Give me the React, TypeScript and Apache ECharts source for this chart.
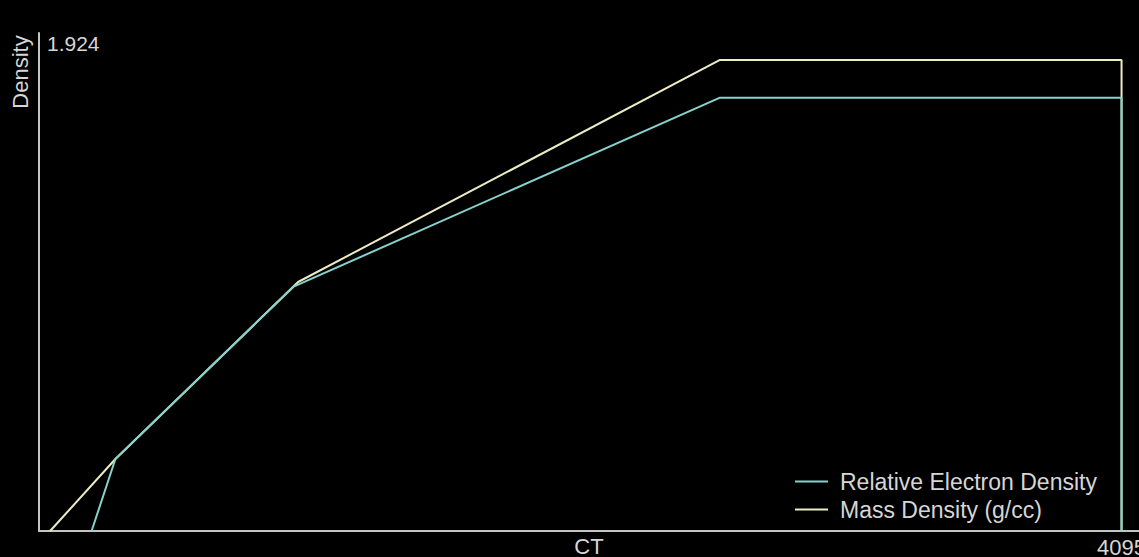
import React, { useEffect, useRef } from "react";
import * as echarts from "echarts";

// Relative Electron Density curve (CT value -> density)
const ctRed = [199, 289, 963, 2576, 4095, 4095];
const red = [0, 0.278, 0.944, 1.674, 1.674, 0];

// Mass Density curve (CT value -> g/cc)
const ctMass = [42, 289, 980, 2576, 4095, 4095];
const mass = [0, 0.278, 0.962, 1.82, 1.82, 0];

const seriesNames = ["Relative Electron Density", "Mass Density (g/cc)"];
const xAxisName = "CT";
const yAxisName = "Density";
const xTickMax = 4095;
const yTickMax = 1.924;

const FONT = 'Arial, "Liberation Sans", sans-serif';
const TEXT = "#d6d6d6";
const AXIS = "#c4c4c4";
const RED_COLOR = "#86d2cc";
const MASS_COLOR = "#ecebc4";

export default function App() {
  const ref = useRef<HTMLDivElement>(null);
  useEffect(() => {
    document.body.style.margin = "0";
    document.body.style.background = "#000";
    const chart = echarts.init(ref.current!, null, { renderer: "svg" });
    const redData = ctRed.map((c, i) => [c, red[i]]);
    const massData = ctMass.map((c, i) => [c, mass[i]]);
    chart.setOption({
      animation: false,
      backgroundColor: "#000",
      grid: {
        left: 39,
        right: 0,
        top: 33,
        bottom: 26,
        containLabel: false,
        outerBoundsMode: "none",
      },
      legend: {
        orient: "vertical",
        left: 795,
        top: 470,
        padding: 0,
        itemGap: 5,
        itemWidth: 33,
        itemHeight: 2,
        icon: "rect",
        selectedMode: false,
        data: seriesNames,
        textStyle: {
          color: TEXT,
          fontFamily: FONT,
          fontSize: 23,
          lineHeight: 23,
          padding: [0, 0, 0, 7],
        },
      },
      xAxis: {
        type: "value",
        min: 0,
        max: 4161,
        interval: xTickMax,
        name: xAxisName,
        nameLocation: "middle",
        nameGap: 4,
        nameMoveOverlap: false,
        nameTextStyle: {
          color: TEXT,
          fontFamily: FONT,
          fontSize: 22,
          verticalAlign: "top",
        },
        axisLine: { show: true, lineStyle: { color: AXIS, width: 2 } },
        axisTick: { show: false },
        splitLine: { show: false },
        axisLabel: {
          show: true,
          showMinLabel: false,
          showMaxLabel: false,
          margin: 5,
          color: TEXT,
          fontFamily: FONT,
          fontSize: 22,
          formatter: (v: number) => String(v),
        },
      },
      yAxis: {
        type: "value",
        min: 0,
        max: yTickMax,
        interval: yTickMax,
        axisLine: { show: true, lineStyle: { color: AXIS, width: 2 } },
        axisTick: { show: false },
        splitLine: { show: false },
        axisLabel: {
          show: true,
          inside: true,
          showMinLabel: false,
          margin: 8,
          verticalAlign: "top",
          color: TEXT,
          fontFamily: FONT,
          fontSize: 21,
          formatter: (v: number) => String(v),
        },
      },
      graphic: [
        {
          type: "text",
          x: 20,
          y: 72,
          rotation: Math.PI / 2,
          style: {
            text: yAxisName,
            fill: TEXT,
            font: `22px ${FONT}`,
            align: "center",
            verticalAlign: "middle",
          },
        },
      ],
      series: [
        {
          name: seriesNames[1],
          type: "line",
          data: massData,
          color: MASS_COLOR,
          showSymbol: false,
          symbol: "none",
          lineStyle: { color: MASS_COLOR, width: 2 },
        },
        {
          name: seriesNames[0],
          type: "line",
          data: redData,
          color: RED_COLOR,
          showSymbol: false,
          symbol: "none",
          lineStyle: { color: RED_COLOR, width: 2 },
        },
      ],
    });
    return () => chart.dispose();
  }, []);
  return <div ref={ref} style={{ width: 1139, height: 557, background: "#000" }} />;
}
